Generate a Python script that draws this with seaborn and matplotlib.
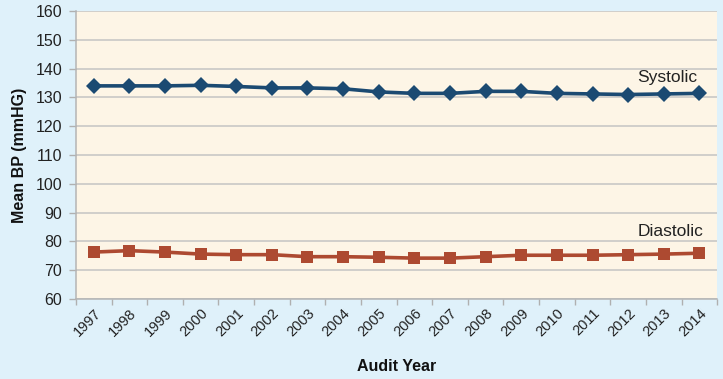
import matplotlib
matplotlib.use("Agg")
import matplotlib.pyplot as plt
import numpy as np
import pandas as pd
import seaborn as sns

years = [str(y) for y in range(1997, 2015)]
systolic = [134.0, 134.0, 134.0, 134.2, 133.8, 133.3, 133.3, 133.0, 131.9,
            131.4, 131.4, 132.1, 132.1, 131.4, 131.2, 131.0, 131.2, 131.4]
diastolic = [76.3, 76.8, 76.3, 75.6, 75.4, 75.4, 74.7, 74.7, 74.5,
             74.2, 74.2, 74.7, 75.2, 75.2, 75.2, 75.4, 75.6, 75.9]
series_names = ["Systolic", "Diastolic"]
y_ticks = list(range(60, 161, 10))

df = pd.DataFrame({
    "year": years * 2,
    "bp": systolic + diastolic,
    "series": [series_names[0]] * len(years) + [series_names[1]] * len(years),
})

sns.set_theme(style="white")
plt.rcParams["font.family"] = ["Liberation Sans", "DejaVu Sans"]

fig = plt.figure(figsize=(7.23, 3.79), dpi=100)
fig.patch.set_facecolor("#dff1fa")
ax = fig.add_axes([0.105, 0.211, 0.887, 0.760])
ax.set_facecolor("#fdf5e6")

palette = {"Systolic": "#1b4a72", "Diastolic": "#ad4a31"}
markers = {"Systolic": "D", "Diastolic": "s"}
sns.lineplot(data=df, x="year", y="bp", hue="series", style="series",
             palette=palette, markers=markers, dashes=False, linewidth=2.6,
             markersize=8.5, markeredgewidth=0, legend=False, ax=ax, sort=False)

ax.set_xlim(-0.5, len(years) - 0.5)
ax.set_ylim(60, 160)
ax.set_yticks(y_ticks)
ax.set_yticklabels([str(t) for t in y_ticks], fontsize=11.5, color="#222222")
ax.set_xticks(range(len(years)))
ax.set_xticklabels(years, rotation=45, ha="right", rotation_mode="anchor",
                   fontsize=10.5, color="#222222")
ax.tick_params(axis="x", length=0, pad=5)
ax.set_xticks(np.arange(-0.5, len(years), 1.0), minor=True)
ax.tick_params(axis="x", which="minor", length=4, color="#b0b0b0", width=1, bottom=True)
ax.tick_params(axis="y", length=5, color="#b0b0b0", width=1, left=True, pad=5)

ax.grid(axis="y", color="#c4c4c4", linewidth=1.1)
ax.set_axisbelow(True)
for side in ["top", "right"]:
    ax.spines[side].set_visible(False)
for side in ["left", "bottom"]:
    ax.spines[side].set_color("#b4b4b4")
    ax.spines[side].set_linewidth(1.1)

ax.set_xlabel("Audit Year", fontsize=11.5, fontweight="bold", labelpad=14, color="#111111")
ax.set_ylabel("Mean BP (mmHG)", fontsize=11.5, fontweight="bold", labelpad=6, color="#111111")

ax.text(16.1, 137.0, "Systolic", fontsize=12.5, color="#222222", ha="center", va="center")
ax.text(16.2, 83.3, "Diastolic", fontsize=12.5, color="#222222", ha="center", va="center")

fig.savefig("out.png", dpi=100, facecolor=fig.get_facecolor())
